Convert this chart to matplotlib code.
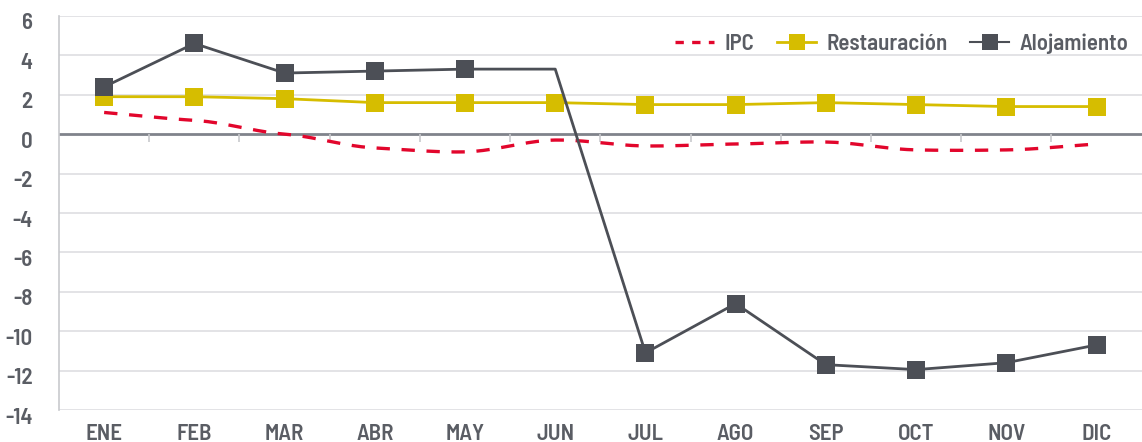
import numpy as np
import matplotlib
matplotlib.use("Agg")
import matplotlib.pyplot as plt
import matplotlib.transforms as mtransforms
from matplotlib.lines import Line2D

months = ["ENE", "FEB", "MAR", "ABR", "MAY", "JUN", "JUL", "AGO", "SEP", "OCT", "NOV", "DIC"]
ipc = [1.1, 0.7, 0.0, -0.7, -0.9, -0.3, -0.6, -0.5, -0.4, -0.8, -0.8, -0.5]
restauracion = [1.9, 1.9, 1.8, 1.6, 1.6, 1.6, 1.5, 1.5, 1.6, 1.5, 1.4, 1.4]
alojamiento = [2.4, 4.6, 3.1, 3.2, 3.3, 3.3, -11.1, -8.6, -11.7, -11.95, -11.6, -10.7]
aloj_marker_months = [0, 1, 2, 3, 4, 6, 7, 8, 9, 10, 11]  # JUN drawn without marker
yticks = [6, 4, 2, 0, -2, -4, -6, -8, -10, -12, -14]

RED = "#e2062c"
YELLOW = "#d6bd00"
DARK = "#4c4f56"
TXT = "#5a5d64"
GRID = "#dedee2"

plt.rcParams['font.family'] = ['Barlow Semi Condensed', 'Roboto Condensed', 'DejaVu Sans']
plt.rcParams['font.weight'] = 600

def smooth(x, y, n=20):
    x = np.asarray(x, float); y = np.asarray(y, float)
    xs, ys = [], []
    m = np.zeros_like(y)
    m[1:-1] = (y[2:] - y[:-2]) / (x[2:] - x[:-2]) * 0.5
    m[0] = (y[1] - y[0]) / (x[1] - x[0]); m[-1] = (y[-1] - y[-2]) / (x[-1] - x[-2])
    for i in range(len(x) - 1):
        h = x[i + 1] - x[i]
        s = np.linspace(0, 1, n, endpoint=False)
        h00 = 2*s**3 - 3*s**2 + 1; h10 = s**3 - 2*s**2 + s
        h01 = -2*s**3 + 3*s**2; h11 = s**3 - s**2
        xs.append(x[i] + s*h)
        ys.append(h00*y[i] + h10*h*m[i] + h01*y[i+1] + h11*h*m[i+1])
    xs.append([x[-1]]); ys.append([y[-1]])
    return np.concatenate(xs), np.concatenate(ys)

fig = plt.figure(figsize=(11.42, 4.42), dpi=100)
ax = fig.add_axes([0.0517, 0.0724, 0.948, 0.8916])

x = np.arange(len(months))
ax.set_xlim(-0.5, len(months) - 0.5)
ax.set_ylim(-14, 6)
ax.set_yticks(yticks)
ax.set_yticklabels([str(v) for v in yticks])
ax.set_xticks(x)
ax.set_xticklabels(months)

for v in yticks:
    if v != 0:
        ax.axhline(v, color=GRID, lw=1.2, zorder=0)
ax.axhline(0, color="#80838b", lw=2, zorder=1)
# small ticks under the zero line at category boundaries
ax.vlines(x[:-1] + 0.5, -0.4, 0, color="#c8c9cd", lw=1.2, zorder=1)

for s in ["top", "right", "bottom"]:
    ax.spines[s].set_visible(False)
ax.spines["left"].set_color("#c8c9cd")
ax.spines["left"].set_linewidth(1.2)
ax.tick_params(axis="both", length=0, labelsize=16.5, labelcolor=TXT)
ax.tick_params(axis="y", pad=19)
ax.tick_params(axis="x", pad=10)
off = mtransforms.ScaledTranslation(0, -4/72, fig.dpi_scale_trans)
for lab in ax.get_yticklabels():
    lab.set_transform(lab.get_transform() + off)

sx, sy = smooth(x, ipc)
ax.plot(sx, sy, color=RED, lw=2.4, dashes=(4, 3.5), zorder=3)

ax.plot(x, restauracion, color=YELLOW, lw=2.0, marker="s", markersize=13,
        markeredgewidth=0, zorder=4)

ax.plot(x, alojamiento, color=DARK, lw=2.0, zorder=5)
ax.plot(x[aloj_marker_months], np.array(alojamiento)[aloj_marker_months],
        ls="none", color=DARK, marker="s", markersize=13, markeredgewidth=0, zorder=6)

handles = [
    Line2D([], [], color=RED, lw=2.4, dashes=(2.5, 2.5)),
    Line2D([], [], color=YELLOW, lw=2.0, marker="s", markersize=12, markeredgewidth=0),
    Line2D([], [], color=DARK, lw=1.5, marker="s", markersize=12, markeredgewidth=0),
]
leg = ax.legend(handles, ["IPC", "Restauración", "Alojamiento"], loc="upper right",
                bbox_to_anchor=(1.007, 1.008), ncol=3, frameon=False, fontsize=16.5,
                handlelength=1.7, columnspacing=1.0, handletextpad=0.45,
                borderaxespad=0.5)
for t in leg.get_texts():
    t.set_color(TXT)

fig.savefig("out.png", dpi=100)
